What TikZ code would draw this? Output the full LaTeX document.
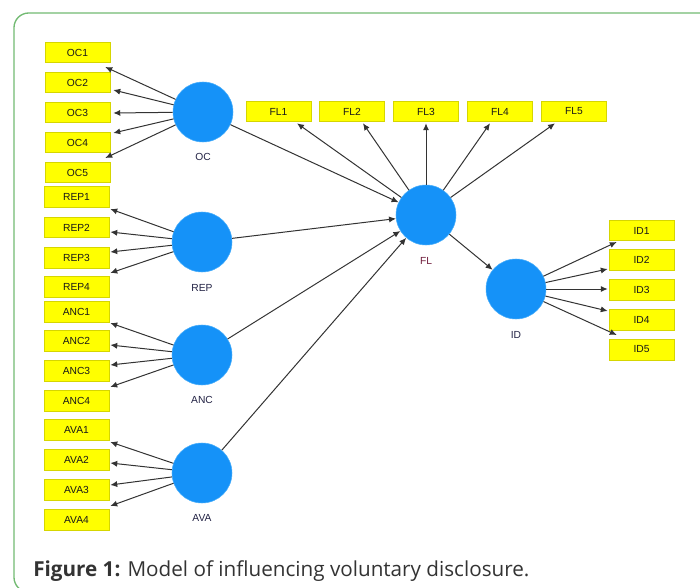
\documentclass[tikz,border=0pt]{standalone}
\usepackage{fontspec}
\setmainfont{Liberation Sans}
\newfontfamily\capfont{Open Sans}
\usetikzlibrary{arrows.meta}
\definecolor{boxfill}{HTML}{FFFF00}
\definecolor{boxedge}{HTML}{D6D600}
\definecolor{lvblue}{HTML}{1592F8}
\definecolor{lvedge}{HTML}{4AAEFA}
\definecolor{arrgray}{HTML}{333333}
\definecolor{framegreen}{HTML}{72BA72}
\definecolor{labdark}{HTML}{222244}
\definecolor{labred}{HTML}{6E1A3A}
\definecolor{captext}{HTML}{333333}
\tikzset{
  ind/.style={rectangle, fill=boxfill, draw=boxedge, line width=0.6pt,
    minimum width=48.6pt, minimum height=15.6pt, inner sep=0pt,
    font=\fontsize{7.7}{8}\selectfont, text=black!90},
  lv/.style={circle, fill=lvblue, draw=lvedge, line width=0.4pt,
    minimum size=45pt, inner sep=0pt},
  lvlab/.style={font=\fontsize{7.7}{8}\selectfont, text=labdark, inner sep=0pt},
  arr/.style={draw=arrgray, line width=0.75pt, -{Latex[length=5.2pt,width=4.6pt]}}
}
\begin{document}
\begin{tikzpicture}[x=0.75pt,y=-0.75pt]
\useasboundingbox (0,0) rectangle (700,588);
\clip (0,0) rectangle (700,588);
\draw[framegreen, line width=1pt, rounded corners=11pt] (14,13) rectangle (714,592);

% latent variables
\node[lv] (OC)  at (203,112) {};
\node[lv] (REP) at (202,242) {};
\node[lv] (ANC) at (202,355) {};
\node[lv] (AVA) at (202,473) {};
\node[lv] (FL)  at (426,215) {};
\node[lv] (ID)  at (516,289) {};

\node[lvlab] (OCl)  at (203,157) {OC};
\node[lvlab] (REPl) at (202,288) {REP};
\node[lvlab] (ANCl) at (202,400) {ANC};
\node[lvlab] (AVAl) at (202,518) {AVA};
\node[lvlab, text=labred] (FLl) at (426,261) {FL};
\node[lvlab] (IDl)  at (516,335) {ID};

% indicators left
\node[ind] (OC1) at (77.5,52.5) {OC1};
\node[ind] (OC2) at (77.5,82.5) {OC2};
\node[ind] (OC3) at (77.5,112.5) {OC3};
\node[ind] (OC4) at (77.5,142.5) {OC4};
\node[ind] (OC5) at (77.5,172.5) {OC5};
\node[ind] (REP1) at (76.5,197) {REP1};
\node[ind] (REP2) at (76.5,227.5) {REP2};
\node[ind] (REP3) at (76.5,257.5) {REP3};
\node[ind] (REP4) at (76.5,287) {REP4};
\node[ind] (ANC1) at (76.5,311.5) {ANC1};
\node[ind] (ANC2) at (76.5,341) {ANC2};
\node[ind] (ANC3) at (76.5,370.5) {ANC3};
\node[ind] (ANC4) at (76.5,400.5) {ANC4};
\node[ind] (AVA1) at (76.5,430) {AVA1};
\node[ind] (AVA2) at (76.5,459.5) {AVA2};
\node[ind] (AVA3) at (76.5,489.5) {AVA3};
\node[ind] (AVA4) at (76.5,519.5) {AVA4};

% FL indicators
\node[ind] (FL1) at (278.5,111.5) {FL1};
\node[ind] (FL2) at (352,111.5) {FL2};
\node[ind] (FL3) at (426,111.5) {FL3};
\node[ind] (FL4) at (500,111.5) {FL4};
\node[ind] (FL5) at (574,111.5) {FL5};

% ID indicators
\node[ind] (ID1) at (641.5,230.5) {ID1};
\node[ind] (ID2) at (641.5,260) {ID2};
\node[ind] (ID3) at (641.5,289.5) {ID3};
\node[ind] (ID4) at (641.5,319.5) {ID4};
\node[ind] (ID5) at (641.5,349.5) {ID5};

% OC loadings
\draw[arr] (OC) -- ([shift={(-5,14.5)}]OC1.east);
\draw[arr] (OC) -- ([shift={(3,7.5)}]OC2.east);
\draw[arr] (OC) -- ([shift={(3,0.5)}]OC3.east);
\draw[arr] (OC) -- ([shift={(3,-9.5)}]OC4.east);
\draw[arr] (OC) -- ([shift={(-5,-14.5)}]OC5.east);
% REP
\draw[arr] (REP) -- ([shift={(1,12)}]REP1.east);
\draw[arr] (REP) -- ([shift={(1,4.5)}]REP2.east);
\draw[arr] (REP) -- ([shift={(1,-5.5)}]REP3.east);
\draw[arr] (REP) -- ([shift={(1,-14)}]REP4.east);
% ANC
\draw[arr] (ANC) -- ([shift={(1,11.5)}]ANC1.east);
\draw[arr] (ANC) -- ([shift={(1,4)}]ANC2.east);
\draw[arr] (ANC) -- ([shift={(1,-5.5)}]ANC3.east);
\draw[arr] (ANC) -- ([shift={(1,-13.5)}]ANC4.east);
% AVA
\draw[arr] (AVA) -- ([shift={(1,12)}]AVA1.east);
\draw[arr] (AVA) -- ([shift={(1,3.5)}]AVA2.east);
\draw[arr] (AVA) -- ([shift={(1,-4.5)}]AVA3.east);
\draw[arr] (AVA) -- ([shift={(1,-13.5)}]AVA4.east);
% FL
\draw[arr] (FL) -- ([shift={(18.5,1)}]FL1.south);
\draw[arr] (FL) -- ([shift={(11,1)}]FL2.south);
\draw[arr] (FL) -- ([shift={(0,1)}]FL3.south);
\draw[arr] (FL) -- ([shift={(-10,1)}]FL4.south);
\draw[arr] (FL) -- ([shift={(-19,1)}]FL5.south);
% ID
\draw[arr] (ID) -- ([shift={(8,11.5)}]ID1.west);
\draw[arr] (ID) -- ([shift={(-1,9)}]ID2.west);
\draw[arr] (ID) -- ([shift={(-1,-0.5)}]ID3.west);
\draw[arr] (ID) -- ([shift={(-1,-8.5)}]ID4.west);
\draw[arr] (ID) -- ([shift={(8,-14.5)}]ID5.west);
% structural paths
\draw[arr] (OC) -- (FL);
\draw[arr] (REP) -- (FL);
\draw[arr] (ANC) -- (FL);
\draw[arr] (AVA) -- (FL);
\draw[arr] (FL) -- (ID);

% caption
\node[anchor=base west, inner sep=0pt, text=captext, font=\capfont\fontsize{15.5}{18}\selectfont] (cap) at (33,576)
  {\textbf{Figure 1:} Model of influencing voluntary disclosure.};
\end{tikzpicture}
\end{document}
